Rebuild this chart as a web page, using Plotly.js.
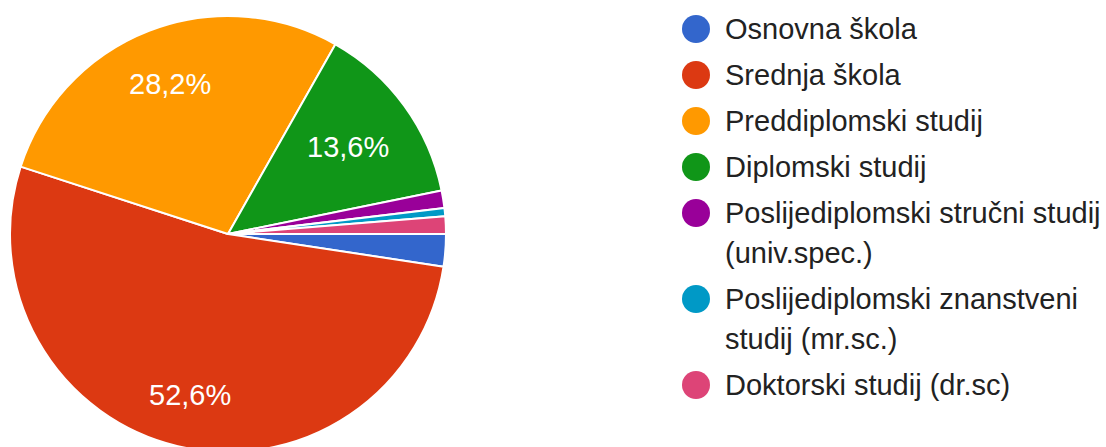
<!DOCTYPE html>
<html><head><meta charset="utf-8">
<script src="https://cdn.plot.ly/plotly-3.0.1.min.js"></script>
<style>html,body{margin:0;padding:0;overflow:hidden;background:#fff}#chart{width:1106px;height:460px}</style>
</head><body><div id="chart"></div>
<script>
// ---- data ----
const categories = ['Osnovna škola','Srednja škola','Preddiplomski studij','Diplomski studij','Poslijediplomski stručni studij (univ.spec.)','Poslijediplomski znanstveni studij (mr.sc.)','Doktorski studij (dr.sc)'];
const legendLines = [['Osnovna škola'],['Srednja škola'],['Preddiplomski studij'],['Diplomski studij'],['Poslijediplomski stručni studij','(univ.spec.)'],['Poslijediplomski znanstveni','studij (mr.sc.)'],['Doktorski studij (dr.sc)']];
const percents = [2.4, 52.6, 28.2, 13.6, 1.3, 0.6, 1.3];
const colors = ['#3366cc','#dc3912','#ff9900','#109618','#990099','#0099c6','#dd4477'];

// ---- layout constants ----
const W = 1106, H = 460;
const CX = 228, CY = 234, R = 218, ROT = 90;
const FONT = 'Arial, "Liberation Sans", sans-serif';
const FS = 29;
const LABEL_MIN = 5;

const total = percents.reduce((a,b)=>a+b,0);
const ctx = document.createElement('canvas').getContext('2d');
ctx.font = FS + 'px Arial, "Liberation Sans"';
const fmt = v => (v/total*100).toFixed(1).replace('.', ',') + '%';

const annotations = [];
let cum = 0;
percents.forEach((v,i) => {
  const a0 = ROT + cum/total*360;
  cum += v;
  const a1 = ROT + cum/total*360;
  if (v/total*100 < LABEL_MIN) return;
  const phi = (a0+a1)/2*Math.PI/180;
  const ux = Math.sin(phi), uy = -Math.cos(phi);
  const txt = fmt(v);
  const w = ctx.measureText(txt).width, h = 0.716*FS;
  const ax = Math.sign(ux)*w/2, by = Math.sign(uy)*h/2;
  const D = 0.865*R;
  const p = ax*ux + by*uy;
  const r = -p + Math.sqrt(p*p - (ax*ax + by*by - D*D));
  annotations.push({
    text: txt, showarrow:false, xref:'paper', yref:'paper',
    x: (CX + r*ux)/W, y: 1 - (CY + r*uy)/H, xanchor:'center', yanchor:'middle',
    font:{family:FONT, size:FS, color:'#ffffff'}
  });
});

// ---- legend (circles + text) ----
const LEG_X = 696, LEG_TX = 723, LEG_Y0 = 29, LEG_STEP = 46, LEG_LINE = 40, LEG_R = 14;
const shapes = [];
let ly = LEG_Y0;
legendLines.forEach((lines,i) => {
  shapes.push({type:'circle', xref:'paper', yref:'paper', xsizemode:'pixel', ysizemode:'pixel',
    xanchor: LEG_X/W, yanchor: 1 - ly/H, x0:-LEG_R, x1:LEG_R, y0:-LEG_R, y1:LEG_R,
    fillcolor: colors[i], line:{width:0}});
  lines.forEach((t,k) => {
    annotations.push({text:t, showarrow:false, xref:'paper', yref:'paper',
      x: LEG_TX/W, y: 1 - (ly + k*LEG_LINE)/H, xanchor:'left', yanchor:'middle',
      font:{family:FONT, size:FS, color:'#222222'}});
  });
  ly += LEG_STEP + (lines.length-1)*LEG_LINE;
});

const trace = {
  type:'pie', labels: categories, values: percents, sort:false, direction:'clockwise', rotation: ROT,
  marker:{colors: colors, line:{color:'#ffffff', width:2}},
  textinfo:'none', showlegend:false, hoverinfo:'label+percent',
  domain:{x:[(CX-R)/W, (CX+R)/W], y:[1-(CY+R)/H, 1-(CY-R)/H]}
};

Plotly.newPlot('chart', [trace], {
  width:W, height:H, margin:{l:0,r:0,t:0,b:0}, paper_bgcolor:'#ffffff',
  showlegend:false, annotations: annotations, shapes: shapes
}, {displayModeBar:false, staticPlot:true});
</script></body></html>
